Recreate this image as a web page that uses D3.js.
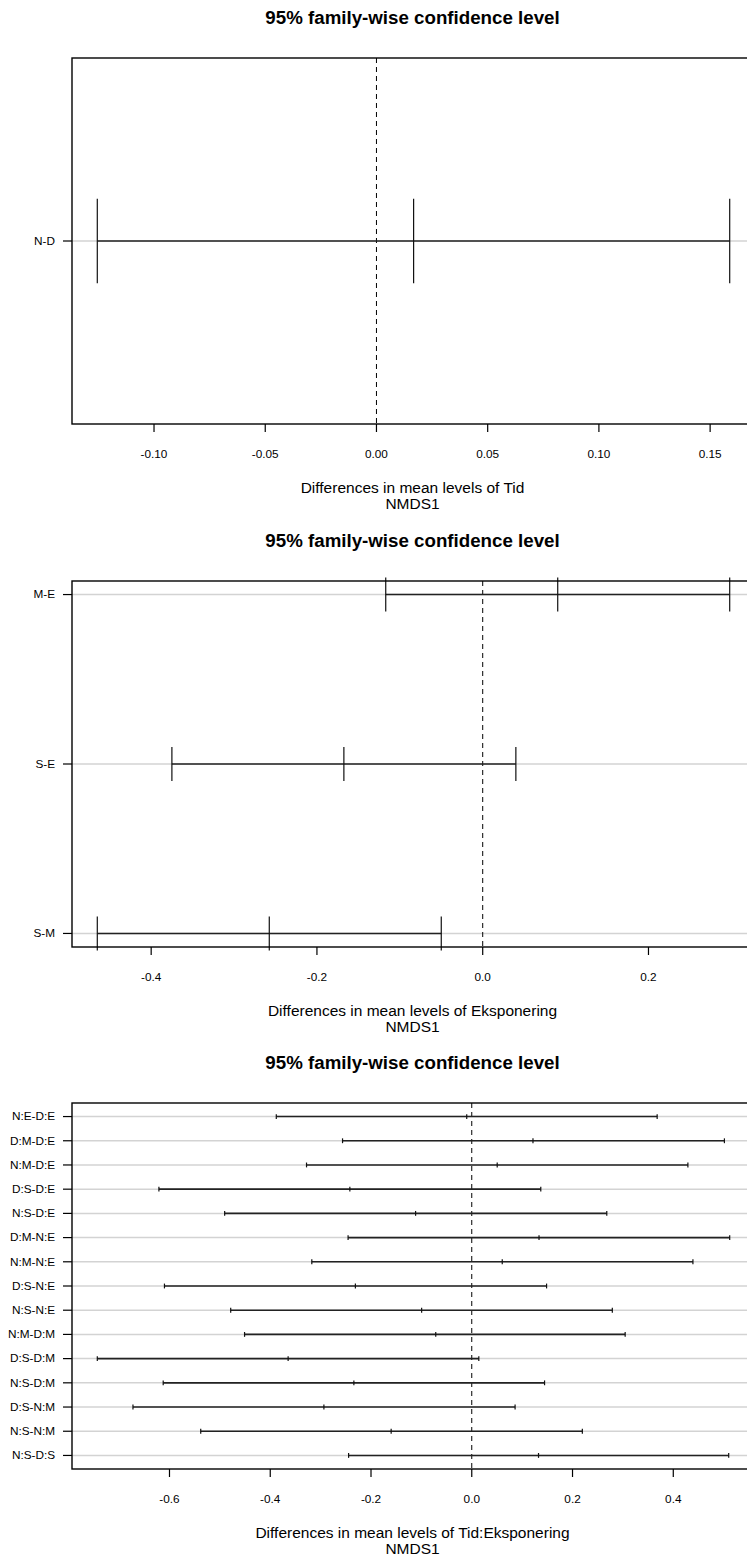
<!DOCTYPE html>
<html>
<head>
<meta charset="utf-8">
<script src="https://cdn.jsdelivr.net/npm/d3@7"></script>
<style>
  body { margin: 0; background: #fff; }
  svg { display: block; }
</style>
</head>
<body>
<script>
// Tukey HSD, NMDS1 -- factor Tid
const tidNames = ['N-D'];
const tidDiff = [0.0167];
const tidLwr = [-0.1255];
const tidUpr = [0.1588];
const tidTicks = [-0.10, -0.05, 0.00, 0.05, 0.10, 0.15];

// factor Eksponering
const eksNames = ['M-E', 'S-E', 'S-M'];
const eksDiff = [0.0905, -0.1675, -0.2575];
const eksLwr = [-0.117, -0.375, -0.465];
const eksUpr = [0.298, 0.040, -0.050];
const eksTicks = [-0.4, -0.2, 0.0, 0.2];

// interaction Tid:Eksponering
const intNames = ['N:E-D:E', 'D:M-D:E', 'N:M-D:E', 'D:S-D:E', 'N:S-D:E', 'D:M-N:E', 'N:M-N:E',
  'D:S-N:E', 'N:S-N:E', 'N:M-D:M', 'D:S-D:M', 'N:S-D:M', 'D:S-N:M', 'N:S-N:M', 'N:S-D:S'];
const intDiff = [-0.010, 0.1215, 0.0505, -0.242, -0.1115, 0.1335, 0.0605,
  -0.231, -0.0995, -0.0715, -0.3645, -0.234, -0.2935, -0.160, 0.1325];
const intLwr = [-0.388, -0.2565, -0.328, -0.621, -0.4905, -0.2455, -0.3175,
  -0.610, -0.4785, -0.451, -0.7433, -0.6125, -0.6725, -0.538, -0.2445];
const intUpr = [0.368, 0.5015, 0.429, 0.137, 0.268, 0.512, 0.439,
  0.1485, 0.279, 0.3045, 0.014, 0.1445, 0.086, 0.2195, 0.510];
const intTicks = [-0.6, -0.4, -0.2, 0.0, 0.2, 0.4];

const width = 747;
const height = 1557;
const left = 72;
const right = 755;
const boxH = 366;
const font = "'Liberation Sans', Arial, sans-serif";

const loc = d3.formatLocale({ decimal: '.', thousands: ',', grouping: [3], currency: ['', ''], minus: '-' });

const svg = d3.select('body').append('svg')
  .attr('width', width)
  .attr('height', height)
  .style('background', '#fff');

// R style axis range: data range stretched by 4% each side
function rRange(lo, hi) {
  if (hi - lo === 0) {
    const t = Math.abs(hi);
    lo -= 0.4 * t;
    hi += 0.4 * t;
  }
  const pad = (hi - lo) * 0.04;
  return [lo - pad, hi + pad];
}

// text slightly wider than the font, like the original device
function txt(g, x, y, s, size, anchor, bold) {
  return g.append('text')
    .attr('transform', `translate(${x},${y}) scale(1.07,1)`)
    .attr('dy', '0.35em')
    .attr('text-anchor', anchor)
    .style('font-family', font)
    .style('font-size', size + 'px')
    .style('font-weight', bold ? 'bold' : 'normal')
    .text(s);
}

function drawPanel(top, names, diff, lwr, upr, ticks, decimals, xlab) {
  const bottom = top + boxH;
  const n = names.length;
  const mid = (left + right) / 2 - 1;
  const g = svg.append('g');

  const x = d3.scaleLinear()
    .domain(rRange(d3.min(lwr), d3.max(upr)))
    .range([left, right]);
  const y = d3.scaleLinear()
    .domain(rRange(1, n))
    .range([bottom, top]);
  const yv = names.map((d, i) => n - i);

  txt(g, mid, top - 40, '95% family-wise confidence level', 17.5, 'middle', true);

  // grid rows
  g.selectAll('line.row').data(yv).join('line')
    .attr('class', 'row')
    .attr('x1', left).attr('x2', right)
    .attr('y1', (d) => y(d)).attr('y2', (d) => y(d))
    .attr('stroke', '#d3d3d3')
    .attr('stroke-width', 1.5);

  // zero line
  g.append('line')
    .attr('x1', x(0)).attr('x2', x(0))
    .attr('y1', top).attr('y2', bottom)
    .attr('stroke', '#000')
    .attr('stroke-width', 1)
    .attr('stroke-dasharray', '5,4');

  // intervals
  g.selectAll('line.ci').data(yv).join('line')
    .attr('class', 'ci')
    .attr('x1', (d, i) => x(lwr[i])).attr('x2', (d, i) => x(upr[i]))
    .attr('y1', (d) => y(d)).attr('y2', (d) => y(d))
    .attr('stroke', '#222')
    .attr('stroke-width', 1.6);

  const ends = [];
  yv.forEach((d, i) => {
    [lwr[i], diff[i], upr[i]].forEach((v) => ends.push({ v, r: d }));
  });
  g.selectAll('line.end').data(ends).join('line')
    .attr('class', 'end')
    .attr('x1', (d) => x(d.v)).attr('x2', (d) => x(d.v))
    .attr('y1', (d) => y(d.r - 0.1)).attr('y2', (d) => y(d.r + 0.1))
    .attr('stroke', '#111')
    .attr('stroke-width', 1.2);

  // x axis
  const fmt = loc.format('.' + decimals + 'f');
  const ax = g.append('g');
  ax.selectAll('line').data(ticks).join('line')
    .attr('x1', (d) => x(d)).attr('x2', (d) => x(d))
    .attr('y1', bottom).attr('y2', bottom + 8)
    .attr('stroke', '#000')
    .attr('stroke-width', 1.2);
  ticks.forEach((t) => txt(ax, x(t), bottom + 30, fmt(t), 11, 'middle', false));

  // y axis
  const ay = g.append('g');
  ay.selectAll('line').data(yv).join('line')
    .attr('x1', left - 9).attr('x2', left)
    .attr('y1', (d) => y(d)).attr('y2', (d) => y(d))
    .attr('stroke', '#000')
    .attr('stroke-width', 1.2);
  names.forEach((nm, i) => txt(ay, 55, y(yv[i]), nm, 11, 'end', false));

  // axis titles
  txt(g, mid, bottom + 64, 'Differences in mean levels of ' + xlab, 14.5, 'middle', false);
  txt(g, mid, bottom + 80, 'NMDS1', 14.5, 'middle', false);

  // box
  g.append('rect')
    .attr('x', left).attr('y', top)
    .attr('width', right - left).attr('height', boxH)
    .attr('fill', 'none')
    .attr('stroke', '#000')
    .attr('stroke-width', 1.4);
}

drawPanel(58, tidNames, tidDiff, tidLwr, tidUpr, tidTicks, 2, 'Tid');
drawPanel(581, eksNames, eksDiff, eksLwr, eksUpr, eksTicks, 1, 'Eksponering');
drawPanel(1103, intNames, intDiff, intLwr, intUpr, intTicks, 1, 'Tid:Eksponering');
</script>
</body>
</html>
